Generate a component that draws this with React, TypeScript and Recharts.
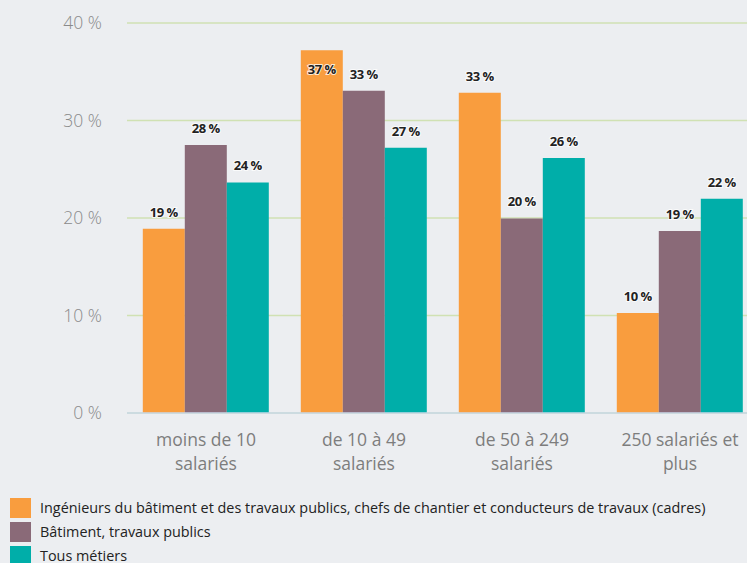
import React from "react"
import { BarChart, Bar, XAxis, YAxis, CartesianGrid, LabelList } from "recharts"

const categories = ["moins de 10|salariés", "de 10 à 49|salariés", "de 50 à 249|salariés", "250 salariés et|plus"]
const ingenieurs = [18.9, 37.2, 32.85, 10.26]
const batiment = [27.5, 33.05, 19.96, 18.67]
const tousMetiers = [23.65, 27.2, 26.15, 21.98]
const yTicks = [0, 10, 20, 30, 40]

const seriesNames = [
  "Ingénieurs du bâtiment et des travaux publics, chefs de chantier et conducteurs de travaux (cadres)",
  "Bâtiment, travaux publics",
  "Tous métiers",
]
const COLORS = ["#F99D3E", "#8A6A78", "#00AEA9"]

const data = categories.map((c, i) => ({
  cat: c,
  ing: ingenieurs[i],
  bat: batiment[i],
  tous: tousMetiers[i],
}))

const FONT = "'Open Sans', sans-serif"

/* ── value label above (or inside, for the tall one) ── */
function ValueLabel(props: any) {
  const { x, y, width, value } = props
  const inside = value > 35
  const ty = inside ? y + 24 : y - 12
  return (
    <text
      x={x + width / 2}
      y={ty}
      textAnchor="middle"
      fontFamily={FONT}
      fontWeight={700}
      fontSize={13}
      letterSpacing={-0.5}
      fill="#222"
      stroke="#fff"
      strokeWidth={2}
      strokeOpacity={0.8}
      paintOrder="stroke"
    >
      {Math.round(value)} %
    </text>
  )
}

/* ── two-line category tick ── */
function CatTick({ x, y, payload }: any) {
  const lines = String(payload.value).split("|")
  return (
    <text x={x} y={y} textAnchor="middle" fontFamily={FONT} fontSize={17.5} fill="#7d7d7d">
      {lines.map((l, i) => (
        <tspan key={i} x={x} dy={i === 0 ? 25 : 24}>
          {l}
        </tspan>
      ))}
    </text>
  )
}

export default function App() {
  return (
    <div
      style={{
        position: "absolute",
        left: 0,
        top: 0,
        width: 747,
        height: 563,
        overflow: "hidden",
        background: "#eceef1",
        fontFamily: FONT,
      }}
    >
      <BarChart
        width={760}
        height={490}
        data={data}
        margin={{ top: 23, right: 1, bottom: 0, left: 0 }}
        barCategoryGap="10%"
        barGap={0}
      >
        <CartesianGrid horizontal vertical={false} stroke="#d0e1b3" strokeWidth={1.5} />
        <XAxis
          dataKey="cat"
          height={77}
          tick={<CatTick />}
          tickLine={false}
          axisLine={{ stroke: "#c9d9ea", strokeWidth: 1.5 }}
          interval={0}
        />
        <YAxis
          width={127}
          domain={[0, 40]}
          ticks={yTicks}
          tickFormatter={(v) => `${v} %`}
          tick={{ fontSize: 17.5, fill: "#8a8a8a", fontFamily: FONT, fontWeight: 300 }}
          tickLine={false}
          tickSize={0}
          tickMargin={25}
          axisLine={false}
        />
        <Bar dataKey="ing" fill={COLORS[0]} isAnimationActive={false}>
          <LabelList dataKey="ing" content={<ValueLabel />} />
        </Bar>
        <Bar dataKey="bat" fill={COLORS[1]} isAnimationActive={false}>
          <LabelList dataKey="bat" content={<ValueLabel />} />
        </Bar>
        <Bar dataKey="tous" fill={COLORS[2]} isAnimationActive={false}>
          <LabelList dataKey="tous" content={<ValueLabel />} />
        </Bar>
      </BarChart>
      <div style={{ position: "absolute", left: 10, top: 496 }}>
        {seriesNames.map((name, i) => (
          <div key={name} style={{ display: "flex", alignItems: "center", height: 24 }}>
            <span style={{ width: 21, height: 20, background: COLORS[i], display: "inline-block", flex: "none" }} />
            <span style={{ marginLeft: 9, fontSize: 14.4, color: "#222", whiteSpace: "nowrap", lineHeight: "20px" }}>
              {name}
            </span>
          </div>
        ))}
      </div>
    </div>
  )
}
